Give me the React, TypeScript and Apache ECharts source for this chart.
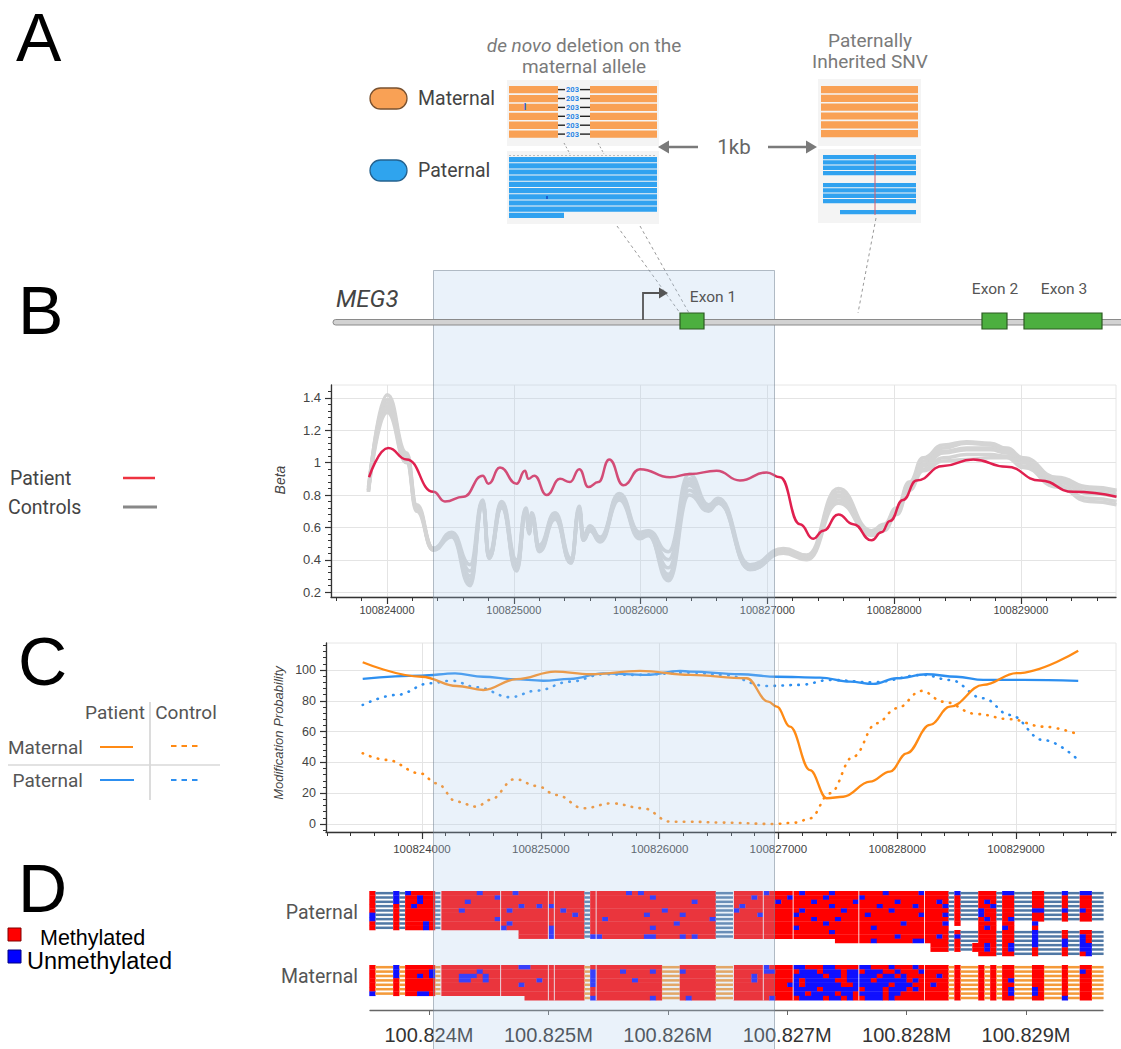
import React, { useEffect, useRef } from 'react';
import * as echarts from 'echarts';

const SANS = '"Liberation Sans", Arial, Helvetica, sans-serif';
const ROBOTO = 'Roboto, "Noto Sans", sans-serif';

// ---------------- Panel B : Beta values ----------------
const B_X_LABELS = [100824000, 100825000, 100826000, 100827000, 100828000, 100829000];
const B_Y_LABELS = [0.2, 0.4, 0.6, 0.8, 1, 1.2, 1.4];

const PATIENT_BETA_POS = [100823858, 100824010, 100824155, 100824365, 100824457, 100824602, 100824755, 100824800, 100824891, 100825022,
  100825088, 100825114, 100825162, 100825259, 100825364, 100825443, 100825517, 100825588, 100825667, 100825753,
  100825864, 100825995, 100826232, 100826390, 100826600, 100826784, 100826994, 100827100, 100827257, 100827362,
  100827441, 100827560, 100827677, 100827822, 100827900, 100827967, 100828070, 100828177, 100828387, 100828624,
  100828887, 100829150, 100829412, 100829754];
const PATIENT_BETA = [0.91, 1.09, 1.02, 0.82, 0.76, 0.79, 0.92, 0.87, 0.97, 0.87,
  0.95, 0.90, 0.92, 0.80, 0.90, 0.88, 0.96, 0.85, 0.88, 1.02,
  0.86, 0.96, 0.91, 0.93, 0.95, 0.89, 0.94, 0.91, 0.62, 0.53,
  0.58, 0.68, 0.62, 0.52, 0.57, 0.64, 0.77, 0.89, 0.98, 1.02,
  0.975, 0.89, 0.82, 0.79];

const CONTROL_BETA_POS = [100823853, 100824002, 100824155, 100824234, 100824365, 100824510, 100824655, 100824755, 100824804, 100824905,
  100825022, 100825096, 100825122, 100825141, 100825201, 100825325, 100825451, 100825517, 100825548, 100825601,
  100825680, 100825832, 100825995, 100826061, 100826219, 100826384, 100826535, 100826613, 100826863, 100827126,
  100827311, 100827560, 100827822, 100827920, 100828019, 100828120, 100828229, 100828388, 100828571, 100828760,
  100828887, 100829020, 100829282, 100829540, 100829754];
const CONTROL_1 = [0.82, 1.42, 1.06, 0.74, 0.47, 0.57, 0.37, 0.77, 0.44, 0.76, 0.40, 0.72, 0.60, 0.69, 0.49, 0.69, 0.41, 0.73, 0.55, 0.61,
  0.54, 0.81, 0.57, 0.58, 0.45, 0.93, 0.74, 0.78, 0.37, 0.47, 0.43, 0.84, 0.58, 0.62, 0.72, 0.88, 1.03, 1.11, 1.13, 1.12,
  1.09, 1.03, 0.91, 0.85, 0.83];
const CONTROL_2 = [0.84, 1.39, 1.05, 0.73, 0.46, 0.56, 0.33, 0.76, 0.43, 0.75, 0.38, 0.71, 0.59, 0.68, 0.48, 0.68, 0.40, 0.72, 0.54, 0.60,
  0.53, 0.80, 0.56, 0.57, 0.40, 0.90, 0.73, 0.77, 0.36, 0.46, 0.42, 0.82, 0.57, 0.61, 0.71, 0.87, 1.01, 1.09, 1.12, 1.11,
  1.08, 1.02, 0.90, 0.84, 0.82];
const CONTROL_3 = [0.83, 1.37, 1.03, 0.72, 0.47, 0.55, 0.30, 0.75, 0.42, 0.74, 0.36, 0.70, 0.58, 0.67, 0.47, 0.67, 0.39, 0.71, 0.53, 0.59,
  0.53, 0.79, 0.55, 0.56, 0.35, 0.88, 0.72, 0.76, 0.35, 0.45, 0.41, 0.80, 0.56, 0.60, 0.70, 0.86, 0.99, 1.07, 1.09, 1.09,
  1.07, 1.01, 0.89, 0.82, 0.80];
const CONTROL_4 = [0.85, 1.35, 1.02, 0.72, 0.46, 0.56, 0.28, 0.75, 0.42, 0.73, 0.35, 0.70, 0.57, 0.67, 0.46, 0.66, 0.39, 0.71, 0.53, 0.59,
  0.52, 0.78, 0.54, 0.56, 0.31, 0.86, 0.72, 0.76, 0.35, 0.46, 0.42, 0.79, 0.57, 0.60, 0.70, 0.85, 0.98, 1.06, 1.08, 1.08,
  1.06, 1.00, 0.88, 0.81, 0.79];
const CONTROL_5 = [0.83, 1.33, 1.01, 0.71, 0.47, 0.55, 0.26, 0.74, 0.41, 0.73, 0.34, 0.69, 0.57, 0.66, 0.46, 0.66, 0.38, 0.70, 0.52, 0.58,
  0.52, 0.78, 0.54, 0.55, 0.29, 0.83, 0.71, 0.75, 0.34, 0.45, 0.41, 0.77, 0.56, 0.59, 0.69, 0.84, 0.96, 1.03, 1.05, 1.05,
  1.04, 0.98, 0.86, 0.78, 0.76];
const CONTROL_6 = [0.82, 1.31, 1.00, 0.70, 0.46, 0.54, 0.24, 0.74, 0.41, 0.72, 0.33, 0.69, 0.56, 0.66, 0.45, 0.65, 0.38, 0.70, 0.52, 0.58,
  0.51, 0.77, 0.53, 0.55, 0.27, 0.80, 0.70, 0.75, 0.34, 0.44, 0.40, 0.75, 0.55, 0.58, 0.68, 0.83, 0.95, 1.01, 1.02, 1.03,
  1.03, 0.97, 0.85, 0.76, 0.74];
const CONTROLS = [CONTROL_1, CONTROL_2, CONTROL_3, CONTROL_4, CONTROL_5, CONTROL_6];

// ---------------- Panel C : Modification probability ----------------
const C_X_LABELS = [100824000, 100825000, 100826000, 100827000, 100828000, 100829000];
const C_Y_LABELS = [0, 20, 40, 60, 80, 100];

const PATIENT_MAT_POS = [100823501, 100823997, 100824292, 100824516, 100824797, 100825120, 100825414, 100825835, 100826256, 100826733,
  100826915, 100826986, 100827098, 100827266, 100827407, 100827546, 100827771, 100827939, 100828080, 100828276,
  100828444, 100828725, 100829005, 100829524];
const PATIENT_MAT = [105, 95.6, 89.6, 87, 94, 98.9, 97.2, 99.4, 96.8, 94.6, 79.4, 76.2, 63.2, 35, 16.7, 17.7, 27.5, 34, 45.9, 64.3,
  76.2, 90.3, 97.9, 112.5];

const PATIENT_PAT_POS = [100823501, 100823997, 100824278, 100824516, 100824768, 100825021, 100825246, 100825526, 100825891, 100826172,
  100826256, 100826677, 100826986, 100827350, 100827603, 100827799, 100827995, 100828248, 100828500, 100828725,
  100829062, 100829524];
const PATIENT_PAT = [94.2, 96.3, 97.8, 95.6, 94, 93, 94.2, 97.8, 96.8, 99.4, 98.9, 97.2, 95.6, 95, 92.4, 90.9, 94.6, 97.2, 95.6, 93.5,
  93.5, 92.9];

const CONTROL_MAT_POS = [100823501, 100823703, 100823983, 100824124, 100824292, 100824461, 100824572, 100824783, 100824966, 100825134,
  100825358, 100825597, 100825863, 100826088, 100826256, 100826536, 100826957, 100827154, 100827266, 100827434,
  100827630, 100827827, 100827995, 100828206, 100828388, 100828668, 100828949, 100829229, 100829524];
const CONTROL_MAT = [45.9, 41.6, 32.9, 26.4, 14.5, 11.2, 15.6, 29.2, 24.7, 18.8, 10.2, 13.4, 10.2, 1.5, 1.5, 0.9, 0, 0.9, 3.7, 19.9,
  43.7, 65.4, 75.1, 86.4, 79.4, 71.4, 68, 63.2, 58.2];

const CONTROL_PAT_POS = [100823501, 100823787, 100824067, 100824250, 100824461, 100824741, 100824966, 100825246, 100825526, 100825808,
  100826256, 100826536, 100826901, 100827182, 100827434, 100827799, 100828220, 100828444, 100828725, 100828949,
  100829229, 100829524];
const CONTROL_PAT = [77.3, 83.8, 91.4, 93, 88.8, 82.3, 86.6, 92.4, 97.2, 96.8, 98.3, 96.8, 89.6, 90.3, 93.5, 92, 96.8, 93.5, 81.6, 70.8,
  54.5, 41.6];

// ---------------- Panel D : per-read CpG calls (50 bp bins) ----------------
// M = methylated, U = unmethylated, - = read without call, . = no read
const D_X_LABELS = [100824000, 100825000, 100826000, 100827000, 100828000, 100829000];
const D_BIN_START = 100823500;
const D_BIN_SIZE = 50;
const PATERNAL_READS = [
  'M---U-UMMM M-MMMMMMUM MMMMUMMMMM MMMMMM-MMM MMMUMUMMMM MMMMMMMM-- -MMMMMUMMM MMUMMMMUMM MMMMMMUMMM MMUMMMM-U- --MMM-UU-- -MM---U--U U--',
  'M---U-MMUM M-MMMMMMMM MUMMMMMMMM MMMMMM-MMM MMMMMMMUMM MMMMMMMM-- -MMMUMMMMM UMMMMMUMMM MMUMMMMMMM MMMMMMM-M- --MMM-MM-- -MM---M--M M--',
  'M---U-MMUM M-MMMMUMMM MMMMMMMMMM MMMMMM-MMM MMMMMMMMMM MMMMUMMM-- -MMMMMMMUM MMMMUMMMMM MUMMMMMMUM MMMMMUM-M- --MUM-MM-- -MM---M--M M--',
  'M---M-MUMM M-MMMMMMMM MMMMMUMMUM UMMMMM-MMM MMMMMMMMMM MMMMMMMM-- -MUMMMMMMM MMMMMMMUMM MMMMMUMMMM MUMMMMU-M- --MMU-MM-- -MM---M--M M--',
  'M---M-MMMM M-MMMUMMMM MMMUMMMMMM MMUMMM-MMM MMMMMMMMMU MMMMMMMM-- -UMMMMMMMM MMUMMMMMMU MMMMMMMUMM MMMMMMM-M- --UMM-MM-- -UU---U--U M--',
  'U---M-MMMM M-MMMMMMMM MMMMMMMMMM MMMMUM-MMM MMMMMMUMMM MMUMMMMM-- -MMMMUMMMM MUMMMMMMMM MMMUMMMMMM MMUMMMU-M- --UMM-MM-- -MM---M--M M--',
  'U---M-MMMM M-MMMMMMMM MUMMMMMMMM MMMMMM-MMU MMMMMMMMMM MMMMMMMU-- -MMMMMMMMM MMMMUMMMUM MMMMMMMMMM MMMMMMM-M- --MUM-MU-- -MM---M--M M--',
  'M---M-MMMU M-MMMMMMMM MMMUMMMMMM MMMMMM-MMM MMMMMMMMMM MUMMMMMM-- -MMMMMMMMM MMMMMMUMMM MMMMMMMMMU MMMMMMU.M. ..MMM.MM.. .U........ ...',
  'M---M-MMMU M-MMMMMMMM MMUMMMMMMM UMMMMM-MMM MMMMMMMUMM MMMMMMMM-- -MMMMMMMMM MUMMMMMMMM MMMMUMMMMM MMMMMMM... ..MUM.UM.. .M........ ...',
  '.......... .......... .....MMMMM UMMMMM-MMM MMMMMMMMMM MMMMMMMM-- -MMMMMMMMM MMMMMMMUMM MMMMMMMMMM MMMMMMM-M- --MMM-MM-- -U----M--M M--',
  '.......... .......... .....MMMMM UMMMMM-UUM MMMMMMUUMM MMUMUMMM-- -MMMMMMMMM MMMMMMMMMM MMMMMMMMUM MMMMMUM-U- --MMM-MM-- -U----M--U M--',
  '.......... .......... .......... .......... .......... .......... .......... ........MM MMMMUMMMMM MUUMMMM-M- --MMM-MM-- -U----U--U M--',
  '.......... .......... .......... .......... .......... .......... .......... .......... .......... ....MMM-M- -MMUM-MU-- -U----U--U U--',
  '.......... .......... .......... .......... .......... .......... .......... .......... .......... ....MMM-M- -MMUM-MU-- -M----M--U U--',
  '.......... .......... .......... .......... .......... .......... .......... .......... .......... .......... ..MMM-MM-- -M----M--M U--',
];
const MATERNAL_READS = [
  'M---U-MMMM M-MMMMMMMM MMMMMUUMMM MMMMMM-MMM MMMMMMMMM- --MMMMMM-- -MMMMMUMMM MUUMMMUUMM MMUUMMMUMM MUMMMMM-M- --M-M-MM-- -MM---M--M M--',
  'M---U-MMMM U-MMMMMMUM MMMMMMMMMM MMMMMM-UMM MMUMMMMUM- --UMMMMM-- -MMMMMUUMM MMUUUMUUUM UUMUUUMMUM MMUMMMM-M- --M-M-MM-- -MM---M--U M--',
  'M---U-MMUM U-MMMUUUMU MMMMMMMMMM MMMMMM-UMM MMMMMMMMM- --MMMMMM-- -MMMUMMMMM MUUUUUMUUM UUUUUMUUMU MMMMMUM-M- --M-M-MM-- -MM---M--M M--',
  'M---M-MMMM M-MMMUUMMU MMMMMMMMUM MMMMMM-UMM MMMMUMMMM- --MMMMMM-- -MMMUMMMMM MUMUUUUUMM UUUUMUUUUU MUMMMMM-M- --M-M-MU-- -MM---M--M M--',
  'M---M-MMMM M-MMMMMMMM MMMMMUMMMM MMMMMM-UMM MMMMMMMMM- --MMMMMM-- -MMMMMMMMM UUMUUUUUUM MUUUUUUMUU UMMMUMM-M- --M-M-MM-- -MM---M--M M--',
  'M---M-MMMM M-MMMMMMMM MMMMMMMMMM MMMMMM-MMM MMMMMMMMM- --MMMMMM-- -MMMMMMMMM MUUUUMUUUU UUMUUUMUUU MUMMMMM-M- --M-M-MU-- -UM---M--M M--',
  'U---M-MMUU M-MMMMMMMM MMMMMMMMMM MMMMMM-MMM MMMMMMMMM- --MMMMMM-- -MMMMMMMMM MUUMUUUUMU UMUUUUMUUM MMMMMMM-M- --M-M-MU-- -UM---M--M M--',
  '.......... .......... ......MMMM MMMMMM-UMM MMMMMMMUM- --MUMMMM-- -MMMMMMUMM MMUUUUMUUM UMMUUUMUMM MMMMMMM-M- --M-M-MM-- -MM---U--M M--',
];
const D_BREAK_BINS = [12, 22, 30, 31, 38, 61, 66, 71, 82, 93];

// ---------------- axis ranges ----------------
const XB_MIN = 100823558, XB_MAX = 100829750, YB_MIN = 0.17, YB_MAX = 1.48;
const XC_MIN = 100823192, XC_MAX = 100829842, YC_MIN = -5.2, YC_MAX = 117.5;
const XD_MIN = 100823506, XD_MAX = 100829645;

function steps(a: number, b: number, s: number) {
  const out: number[] = [];
  for (let v = a; v <= b + 1e-9; v += s) out.push(Math.round(v * 1000) / 1000);
  return out;
}
const B_X_MINOR = steps(100823600, 100829600, 200);
const B_Y_MINOR = steps(0.2, 1.44, 0.04);
const C_X_MINOR = steps(100823200, 100829800, 200);
const C_Y_MINOR = steps(-4, 116, 4);

const zip = (xs: number[], ys: number[]) => xs.map((x, i) => [x, ys[i]]);

function buildCells(rows: string[], group: number) {
  const out: number[][] = [];
  rows.forEach((raw, r) => {
    const s = raw.replace(/ /g, '');
    let i = 0;
    while (i < s.length) {
      const ch = s[i];
      let j = i;
      while (j < s.length && s[j] === ch) j++;
      if (ch !== '.') {
        const kind = ch === 'M' ? 0 : ch === 'U' ? 1 : 2;
        out.push([D_BIN_START + i * D_BIN_SIZE, D_BIN_START + j * D_BIN_SIZE, r, group, kind]);
      }
      i = j;
    }
  });
  return out;
}

function minorAxis(gridIndex: number, min: number, max: number, ticks: number[], position: string, len: number) {
  return {
    type: 'value', gridIndex, min, max, position,
    axisLine: { show: true, onZero: false, lineStyle: { color: '#333', width: 1.3 } },
    axisTick: { show: true, customValues: ticks, length: len, lineStyle: { color: '#333', width: 1 } },
    axisLabel: { show: false },
    splitLine: { show: false },
  };
}
function majorAxis(gridIndex: number, min: number, max: number, ticks: number[], position: string, len: number, label: any) {
  return {
    type: 'value', gridIndex, min, max, position,
    axisLine: { show: false, onZero: false },
    axisTick: { show: true, customValues: ticks, length: len, lineStyle: { color: '#333', width: 1.2 } },
    axisLabel: { show: true, customValues: ticks, fontFamily: SANS, formatter: (v: number) => String(v), ...label },
    splitLine: { show: true, lineStyle: { color: '#e4e4e4', width: 1 } },
  };
}

function buildGraphics() {
  const G: any[] = [];
  const text = (x: number, y: number, t: string, o: any = {}) => {
    G.push({
      type: 'text', x, y, z: o.z ?? 10, rotation: o.rotation ?? 0,
      style: {
        text: t, fill: o.color ?? '#444', fontSize: o.size ?? 16, fontFamily: o.family ?? ROBOTO,
        fontStyle: o.italic ? 'italic' : 'normal', fontWeight: o.weight ?? 'normal',
        align: o.align ?? 'left', textAlign: o.align ?? 'left', verticalAlign: 'middle', textVerticalAlign: 'middle',
        rich: o.rich,
      },
    });
  };
  const rect = (x: number, y: number, w: number, h: number, fill: string, o: any = {}) => {
    G.push({ type: 'rect', z: o.z ?? 10, shape: { x, y, width: w, height: h, r: o.r ?? 0 },
      style: { fill, stroke: o.stroke ?? null, lineWidth: o.lw ?? 0 } });
  };
  const line = (x1: number, y1: number, x2: number, y2: number, stroke: string, w: number, dash?: number[], z = 10) => {
    G.push({ type: 'line', z, shape: { x1, y1, x2, y2 }, style: { stroke, lineWidth: w, lineDash: dash ?? null } });
  };
  const poly = (pts: number[][], fill: string, z = 10) => G.push({ type: 'polygon', z, shape: { points: pts }, style: { fill } });

  // panel letters
  text(16, 37, 'A', { size: 68, family: SANS, color: '#000' });
  text(18, 310, 'B', { size: 68, family: SANS, color: '#000' });
  text(18, 661, 'C', { size: 68, family: SANS, color: '#000' });
  text(18, 888, 'D', { size: 68, family: SANS, color: '#000' });

  // ---- panel A ----
  rect(370, 88, 37, 21, '#f9a155', { r: 10.5, stroke: '#7a5230', lw: 1.3 });
  text(418, 98.5, 'Maternal', { size: 19.5 });
  rect(370, 160, 37, 21, '#2fa4ee', { r: 10.5, stroke: '#24628f', lw: 1.3 });
  text(418, 170.5, 'Paternal', { size: 19.5 });

  text(584, 45, '{i|de novo} deletion on the', { size: 19, color: '#7a7a7a', align: 'center',
    rich: { i: { fontStyle: 'italic', fontSize: 19, fontFamily: ROBOTO, fill: '#7a7a7a', color: '#7a7a7a' } } });
  text(584, 66, 'maternal allele', { size: 19, color: '#7a7a7a', align: 'center' });
  text(870, 40, 'Paternally', { size: 19, color: '#7a7a7a', align: 'center' });
  text(870, 61, 'Inherited SNV', { size: 19, color: '#7a7a7a', align: 'center' });

  rect(507, 80, 152, 66, '#f4f4f4');
  rect(507, 151, 152, 73, '#f4f4f4');
  rect(818, 79, 103, 67, '#f4f4f4');
  rect(818, 149, 103, 74, '#f4f4f4');
  for (let i = 0; i < 6; i++) {
    const y = 86 + i * 8.9;
    rect(509, y, 49, 7.3, '#f9a155');
    rect(590, y, 67, 7.3, '#f9a155');
    line(558, y + 3.6, 565, y + 3.6, '#222', 1.4);
    line(580, y + 3.6, 590, y + 3.6, '#222', 1.4);
    text(572.5, y + 3.8, '203', { size: 7.5, weight: 'bold', color: '#2a86e6', align: 'center' });
  }
  text(525, 107, 'I', { size: 9, weight: 'bold', color: '#2266dd', align: 'center' });
  line(509, 155.5, 657, 155.5, '#bbbbbb', 1, [2, 2]);
  for (let i = 0; i < 10; i++) rect(509, 157 + i * 6.2, i === 9 ? 55 : 148, 5.2, '#30a2f0');
  rect(546, 196, 2, 3, '#1a5fd0');
  for (let i = 0; i < 6; i++) rect(821, 86 + i * 8.8, 97, 7.2, '#f9a155');
  for (let i = 0; i < 4; i++) rect(823, 155 + i * 5.3, 93, 4.3, '#30a2f0');
  for (let i = 0; i < 4; i++) rect(823, 183 + i * 5.3, 93, 4.3, '#30a2f0');
  rect(840, 210, 76, 4.3, '#30a2f0');
  line(875, 154, 875, 215, '#d65a6a', 1);

  line(698, 147, 666, 147, '#7a7a7a', 2.5);
  poly([[658, 147], [669, 140.5], [669, 153.5]], '#7a7a7a');
  line(768, 147, 809, 147, '#7a7a7a', 2.5);
  poly([[817, 147], [806, 140.5], [806, 153.5]], '#7a7a7a');
  text(734, 147, '1kb', { size: 20.5, color: '#666', align: 'center' });

  // connectors
  line(564, 143, 570, 154, '#999', 1, [2, 2]);
  line(598, 143, 604, 154, '#999', 1, [2, 2]);
  line(617, 226, 680, 313, '#999', 1, [3, 3]);
  line(640, 226, 689, 313, '#999', 1, [3, 3]);
  line(876, 218, 858, 313, '#999', 1, [3, 3]);

  // ---- gene track (drawn above the highlight) ----
  rect(333, 319.5, 800, 5.5, '#d2d2d2', { r: 2.7, stroke: '#8a8a8a', lw: 1, z: 110 });
  rect(680, 313, 24, 16, '#4caf3f', { stroke: '#2c5a22', lw: 1.2, z: 111 });
  rect(982, 313, 25, 16, '#4caf3f', { stroke: '#2c5a22', lw: 1.2, z: 111 });
  rect(1024, 313, 78, 16, '#4caf3f', { stroke: '#2c5a22', lw: 1.2, z: 111 });
  G.push({ type: 'polyline', z: 110, shape: { points: [[643, 320], [643, 293], [660, 293]] }, style: { stroke: '#555', lineWidth: 1.8, fill: null } });
  poly([[659, 287.5], [668, 293], [659, 298.5]], '#555', 110);
  text(336, 299, 'MEG3', { size: 24, italic: true, color: '#444', z: 110 });
  text(713, 297, 'Exon 1', { size: 15.5, color: '#555', align: 'center', z: 110 });
  text(995, 289, 'Exon 2', { size: 15.5, color: '#555', align: 'center', z: 110 });
  text(1064, 289, 'Exon 3', { size: 15.5, color: '#555', align: 'center', z: 110 });

  // ---- panel B legend & axis name ----
  text(10, 478, 'Patient', { size: 19.5 });
  line(123, 478, 155, 478, '#ee3340', 2.5);
  text(8, 507, 'Controls', { size: 19.5 });
  line(123, 507, 157, 507, '#888', 3);
  text(280, 480, 'Beta', { size: 14, italic: true, family: SANS, color: '#444', align: 'center', rotation: Math.PI / 2 });

  // ---- panel C legend & axis name ----
  text(115, 712, 'Patient', { size: 19, color: '#555', align: 'center' });
  text(186, 712, 'Control', { size: 19, color: '#555', align: 'center' });
  line(150, 702, 150, 800, '#d0d0d0', 1.5);
  line(8, 765, 220, 765, '#d8d8d8', 1.5);
  text(83, 747, 'Maternal', { size: 19, color: '#555', align: 'right' });
  line(100, 747, 133, 747, '#ff8a14', 2.2);
  line(171, 746, 199, 746, '#ff8a14', 2, [5.5, 5]);
  text(83, 780, 'Paternal', { size: 19, color: '#555', align: 'right' });
  line(100, 780, 134, 780, '#2d8ff0', 2.2);
  line(171, 780, 199, 780, '#2d8ff0', 2, [5.5, 5]);
  text(278, 733, 'Modification Probability', { size: 13, italic: true, family: SANS, color: '#444', align: 'center', rotation: Math.PI / 2 });

  // ---- panel D legend & row labels ----
  rect(8, 928, 13, 13, '#ff0000', { stroke: '#800000', lw: 1 });
  text(40, 938, 'Methylated', { size: 21.5, family: SANS, color: '#000' });
  rect(8, 950, 13, 13, '#0000ff', { stroke: '#000080', lw: 1 });
  text(27, 961, 'Unmethylated', { size: 23.5, family: SANS, color: '#000' });
  text(358, 912, 'Paternal', { size: 19.5, color: '#555', align: 'right' });
  text(358, 976, 'Maternal', { size: 19.5, color: '#555', align: 'right' });

  // ---- highlighted region overlay ----
  G.push({ type: 'rect', z: 100, silent: true, shape: { x: 433.5, y: 270.5, width: 341, height: 790 },
    style: { fill: 'rgba(172,204,235,0.26)', stroke: 'rgba(120,135,150,0.55)', lineWidth: 1 } });
  return G;
}

function buildOption() {
  const cells = [...buildCells(PATERNAL_READS, 0), ...buildCells(MATERNAL_READS, 1)];
  const breaks = D_BREAK_BINS.map((b) => [D_BIN_START + b * D_BIN_SIZE, 0]);

  const series: any[] = [];
  CONTROLS.forEach((c) => series.push({
    type: 'line', xAxisIndex: 0, yAxisIndex: 0, data: zip(CONTROL_BETA_POS, c), smooth: 0.5, smoothMonotone: 'x',
    showSymbol: false, silent: true, z: 2, lineStyle: { color: '#d4d4d4', width: 3.5 },
  }));
  series.push({
    type: 'line', xAxisIndex: 0, yAxisIndex: 0, data: zip(PATIENT_BETA_POS, PATIENT_BETA), smooth: 0.5, smoothMonotone: 'x',
    showSymbol: false, silent: true, z: 3, lineStyle: { color: '#e0204f', width: 2.5 },
  });
  const dotted = { type: [0.5, 7.5], cap: 'round', width: 2.6 };
  series.push({ type: 'line', xAxisIndex: 2, yAxisIndex: 2, data: zip(CONTROL_MAT_POS, CONTROL_MAT), smooth: 0.4, smoothMonotone: 'x',
    showSymbol: false, silent: true, z: 2, lineStyle: { color: '#ff8a14', ...dotted } });
  series.push({ type: 'line', xAxisIndex: 2, yAxisIndex: 2, data: zip(CONTROL_PAT_POS, CONTROL_PAT), smooth: 0.4, smoothMonotone: 'x',
    showSymbol: false, silent: true, z: 2, lineStyle: { color: '#2d8ff0', ...dotted } });
  series.push({ type: 'line', xAxisIndex: 2, yAxisIndex: 2, data: zip(PATIENT_PAT_POS, PATIENT_PAT), smooth: 0.4, smoothMonotone: 'x',
    showSymbol: false, silent: true, z: 3, lineStyle: { color: '#2d8ff0', width: 2.3 } });
  series.push({ type: 'line', xAxisIndex: 2, yAxisIndex: 2, data: zip(PATIENT_MAT_POS, PATIENT_MAT), smooth: 0.4, smoothMonotone: 'x',
    showSymbol: false, silent: true, z: 4, lineStyle: { color: '#ff8a14', width: 2.3 } });

  series.push({
    type: 'custom', xAxisIndex: 4, yAxisIndex: 4, data: cells, silent: true, clip: false,
    encode: { x: [0, 1] },
    renderItem: (params: any, api: any) => {
      const x0 = api.value(0), x1 = api.value(1), row = api.value(2), grp = api.value(3), kind = api.value(4);
      const cs = params.coordSys;
      const top0 = grp === 0 ? 6 : 80;
      const rh = grp === 0 ? 4.33 : 4.4;
      const px0 = api.coord([x0, 0])[0];
      const px1 = api.coord([x1, 0])[0];
      const yTop = cs.y + top0 + row * rh;
      if (kind === 2) {
        const sh = rh * 0.58;
        return { type: 'rect', shape: { x: px0, y: yTop + (rh - sh) / 2, width: px1 - px0, height: sh },
          style: { fill: grp === 0 ? '#5078a5' : '#f49a3a' } };
      }
      return { type: 'rect', shape: { x: px0, y: yTop, width: px1 - px0 + 0.3, height: rh + 0.3 },
        style: { fill: kind === 0 ? '#ff0000' : '#1010ff' } };
    },
  });
  series.push({
    type: 'custom', xAxisIndex: 4, yAxisIndex: 4, data: breaks, silent: true, clip: false, z: 3,
    encode: { x: 0 },
    renderItem: (params: any, api: any) => {
      const cs = params.coordSys;
      const px = api.coord([api.value(0), 0])[0];
      return { type: 'group', children: [
        { type: 'line', shape: { x1: px, y1: cs.y + 6, x2: px, y2: cs.y + 71 }, style: { stroke: 'rgba(255,255,255,0.85)', lineWidth: 1 } },
        { type: 'line', shape: { x1: px, y1: cs.y + 80, x2: px, y2: cs.y + 115.5 }, style: { stroke: 'rgba(255,255,255,0.85)', lineWidth: 1 } },
      ] };
    },
  });

  return {
    animation: false,
    backgroundColor: '#ffffff',
    textStyle: { fontFamily: SANS },
    grid: [
      { left: 331, top: 385, width: 785, height: 212, show: true, borderColor: '#e6e6e6', borderWidth: 1 },
      { left: 326, top: 643, width: 790, height: 189, show: true, borderColor: '#e6e6e6', borderWidth: 1 },
      { left: 370, top: 885, width: 733, height: 125 },
    ],
    xAxis: [
      minorAxis(0, XB_MIN, XB_MAX, B_X_MINOR, 'bottom', 4),
      majorAxis(0, XB_MIN, XB_MAX, B_X_LABELS, 'bottom', 7, { fontSize: 11, color: '#444', margin: 7 }),
      minorAxis(1, XC_MIN, XC_MAX, C_X_MINOR, 'bottom', 4),
      majorAxis(1, XC_MIN, XC_MAX, C_X_LABELS, 'bottom', 7, { fontSize: 11.5, color: '#444', margin: 11 }),
      {
        type: 'value', gridIndex: 2, min: XD_MIN, max: XD_MAX, position: 'bottom',
        axisLine: { show: true, onZero: false, lineStyle: { color: '#666', width: 1.3 } },
        axisTick: { show: true, customValues: D_X_LABELS, length: 5, lineStyle: { color: '#666' } },
        axisLabel: { show: true, customValues: D_X_LABELS, fontSize: 20, color: '#333', margin: 15, fontFamily: SANS,
          formatter: (v: number) => (v / 1e6).toFixed(3) + 'M' },
        splitLine: { show: false },
      },
    ],
    yAxis: [
      minorAxis(0, YB_MIN, YB_MAX, B_Y_MINOR, 'left', 3),
      majorAxis(0, YB_MIN, YB_MAX, B_Y_LABELS, 'left', 6, { fontSize: 13, color: '#444', margin: 10,
        formatter: (v: number) => String(Math.round(v * 10) / 10) }),
      minorAxis(1, YC_MIN, YC_MAX, C_Y_MINOR, 'left', 3),
      majorAxis(1, YC_MIN, YC_MAX, C_Y_LABELS, 'left', 6, { fontSize: 12.5, color: '#444', margin: 10 }),
      { type: 'value', gridIndex: 2, min: 0, max: 1, show: false },
    ],
    series,
    graphic: { elements: buildGraphics() },
  };
}

export default function App() {
  const ref = useRef<HTMLDivElement>(null);
  useEffect(() => {
    if (!ref.current) return;
    const chart = echarts.init(ref.current, null, { renderer: 'svg' });
    chart.setOption(buildOption() as any);
    return () => chart.dispose();
  }, []);
  return (
    <div ref={ref} style={{ position: 'absolute', left: 0, top: 0, width: 1121, height: 1049, background: '#fff' }} />
  );
}
